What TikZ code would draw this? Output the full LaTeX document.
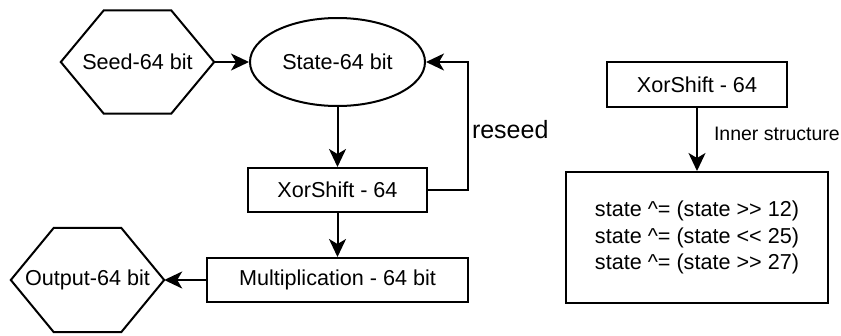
\documentclass[tikz,border=0pt]{standalone}
\usepackage{fontspec}
\setmainfont{Liberation Sans}
\usetikzlibrary{shapes.geometric,arrows.meta}

\begin{document}
\begin{tikzpicture}[x=1pt,y=-1pt,
  txt/.style={font=\fontsize{21.6}{26.7}\selectfont},
  box/.style={draw,line width=2pt,rectangle,minimum height=44pt,inner sep=0pt,txt},
  hexa/.style={rectangle,minimum width=153pt,minimum height=103pt,inner sep=0pt,txt},
  arr/.style={line width=2pt,-{Stealth[length=18pt,width=17pt,inset=5pt]}}]
\useasboundingbox (0,0) rectangle (841,335);
% left: generator
\node[hexa] (seed) at (137.5,62) {Seed-64 bit};
\node[draw,line width=2pt,ellipse,minimum width=175pt,minimum height=88pt,inner sep=0pt,txt] (state) at (337.5,62) {State-64 bit};
\node[box,minimum width=179pt] (xor) at (337.5,190) {XorShift - 64};
\node[box,minimum width=261pt] (mult) at (337.5,280) {Multiplication - 64 bit};
\node[hexa,minimum height=104pt] (out) at (87.5,280) {Output-64 bit};
\foreach \h in {seed,out}
  \draw[line width=2pt] (\h.west) -- ([xshift=43pt]\h.north west) -- ([xshift=-43pt]\h.north east)
    -- (\h.east) -- ([xshift=-43pt]\h.south east) -- ([xshift=43pt]\h.south west) -- cycle;
\coordinate (fb) at (468,62);
\draw[arr] (seed.east) -- (state.west);
\draw[arr] (state.south) -- (xor.north);
\draw[arr] (xor.east) -- (xor.east -| fb) -- node[right,pos=0.47,inner sep=3pt,font=\fontsize{25}{30}\selectfont] (reseed) {reseed} (fb) -- (state.east);
\draw[arr] (xor.south) -- (mult.north);
\draw[arr] (mult.west) -- (out.east);
% right: inner structure
\node[box,minimum width=180pt,minimum height=45pt] (xorb) at (697,84.5) {XorShift - 64};
\node[box,minimum width=262pt,minimum height=131pt,align=left] (inner) at (697,237.5)
  {state \textasciicircum= (state >{}> 12)\\state \textasciicircum= (state <{}< 25)\\state \textasciicircum= (state >{}> 27)};
\draw[arr] (xorb.south) -- node[right,pos=0.41,inner sep=0pt,xshift=16pt,font=\fontsize{19.5}{24}\selectfont] (innerlbl) {Inner structure} (inner.north);
\end{tikzpicture}
\end{document}
